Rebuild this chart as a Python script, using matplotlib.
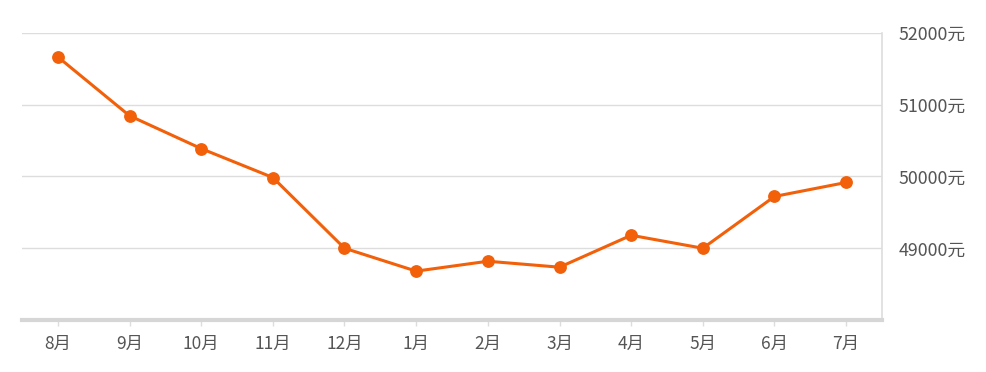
import matplotlib
matplotlib.use("Agg")
import matplotlib.pyplot as plt

plt.rcParams['font.family'] = ['Noto Sans CJK SC', 'DejaVu Sans']

months = ["8月", "9月", "10月", "11月", "12月", "1月", "2月", "3月", "4月", "5月", "6月", "7月"]
prices = [51667, 50847, 50389, 49986, 49000, 48681, 48819, 48736, 49181, 49000, 49722, 49917]
ytick_values = [49000, 50000, 51000, 52000]
ytick_labels = ["49000元", "50000元", "51000元", "52000元"]

fig = plt.figure(figsize=(9.86, 3.72), dpi=100)
ax = fig.add_axes([22/986, 1 - 320/372, (882-22)/986, (320-33)/372])

x = list(range(len(months)))
ax.plot(x, prices, color='#F2600A', lw=2.2, marker='o', markersize=8.2, zorder=3)

ax.set_xlim(-0.5, len(months) - 0.5)
ax.set_ylim(48000, 52000)
ax.set_xticks(x)
ax.set_xticklabels(months)
ax.yaxis.tick_right()
ax.set_yticks(ytick_values)
ax.set_yticklabels(ytick_labels)
ax.grid(axis='y', color='#dddddd', lw=1)
ax.set_axisbelow(True)

for s in ['left', 'top']:
    ax.spines[s].set_visible(False)
ax.spines['right'].set_color('#dddddd')
ax.spines['right'].set_linewidth(1.2)
ax.spines['bottom'].set_color('#d6d6d6')
ax.spines['bottom'].set_linewidth(3)

ax.tick_params(axis='y', length=0, pad=12, labelsize=12.8, labelcolor='#555555')
ax.tick_params(axis='x', length=4, width=1, color='#dddddd', pad=7, labelsize=12.5, labelcolor='#555555')

fig.savefig("out.png", dpi=100)
